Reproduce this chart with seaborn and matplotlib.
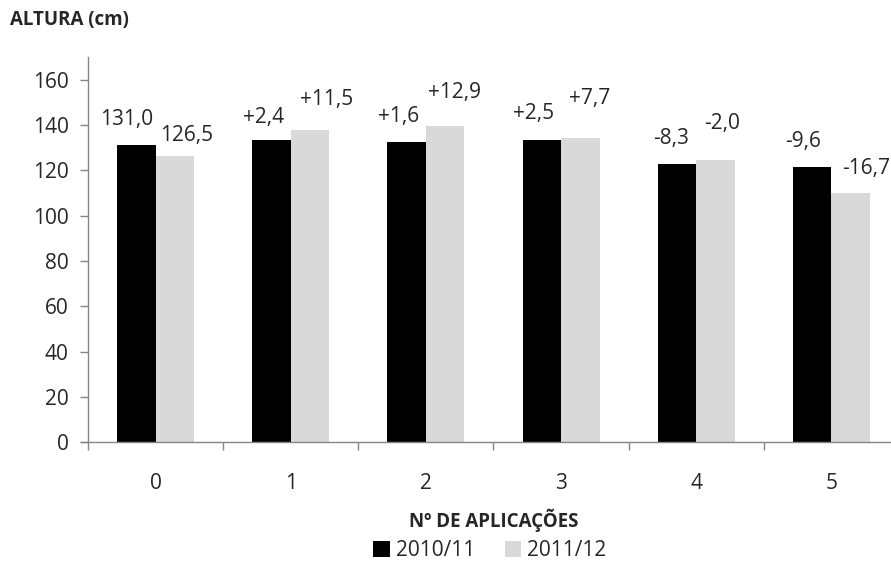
import matplotlib
matplotlib.use("Agg")
import matplotlib.pyplot as plt
import seaborn as sns
import pandas as pd
from matplotlib.patches import Patch

# ---- data ----
categories = ["0", "1", "2", "3", "4", "5"]
series_names = ["2010/11", "2011/12"]
values_2010 = [131.0, 133.4, 132.6, 133.5, 122.7, 121.4]
values_2011 = [126.5, 138.0, 139.4, 134.2, 124.5, 109.8]
labels_2010 = ["131,0", "+2,4", "+1,6", "+2,5", "-8,3", "-9,6"]
labels_2011 = ["126,5", "+11,5", "+12,9", "+7,7", "-2,0", "-16,7"]
y_ticks = [0, 20, 40, 60, 80, 100, 120, 140, 160]

# label offsets (pixels): (dx from bar centre, gap above bar top)
offs_2010 = [(-10, 15), (-8, 12), (-8, 15), (-8, 16), (-6, 15), (-9, 15)]
offs_2011 = [(12, 10), (17, 20), (9, 23), (9, 29), (7, 26), (15, 14)]

df = pd.DataFrame({
    "aplic": categories * 2,
    "serie": [series_names[0]] * 6 + [series_names[1]] * 6,
    "altura": values_2010 + values_2011,
})

sns.set_theme(style="white")
plt.rcParams["font.family"] = ["Open Sans", "DejaVu Sans"]

FS = 15
fig = plt.figure(figsize=(8.91, 5.68), dpi=100)
ax = fig.add_axes([88 / 891, 125.7 / 568, 811 / 891, 385.3 / 568])

colors = {"2010/11": "#000000", "2011/12": "#d9d9d9"}
sns.barplot(data=df, x="aplic", y="altura", hue="serie", order=categories,
            hue_order=series_names, palette=colors, width=0.57,
            linewidth=0, saturation=1, ax=ax, legend=False)

ax.set_xlim(-0.5, 5.5)
ax.set_ylim(0, 170)
ax.set_yticks(y_ticks)
ax.set_yticklabels([str(v) for v in y_ticks])

for s in ["top", "right"]:
    ax.spines[s].set_visible(False)
for s in ["left", "bottom"]:
    ax.spines[s].set_color("#868686")
    ax.spines[s].set_linewidth(1.0)

ax.tick_params(axis="y", which="major", direction="out", length=6, width=1,
               color="#868686", labelsize=FS, labelcolor="#262626", pad=8, left=True)
ax.set_xticks(range(len(categories)))
ax.set_xticklabels(categories)
ax.tick_params(axis="x", which="major", length=0, labelsize=FS,
               labelcolor="#262626", pad=22)
ax.set_xticks([i - 0.5 for i in range(len(categories) + 1)], minor=True)
ax.tick_params(axis="x", which="minor", direction="out", length=6, width=1,
               color="#868686", bottom=True)
ax.spines["bottom"].set_bounds(-0.55, 5.5)

ax.set_xlabel("Nº DE APLICAÇÕES", fontsize=13.5, fontweight="bold",
              color="#262626", labelpad=11)
ax.set_ylabel("")

# data labels
for cont, labs, offs in zip(ax.containers, [labels_2010, labels_2011], [offs_2010, offs_2011]):
    for bar, lab, (dx, dy) in zip(cont.patches, labs, offs):
        xc = bar.get_x() + bar.get_width() / 2
        ax.annotate(lab, (xc, bar.get_height()), xytext=(dx, dy),
                    textcoords="offset pixels", ha="center", va="bottom",
                    fontsize=FS, color="#262626", annotation_clip=False)

fig.text(10 / 891, 1 - 20 / 568, "ALTURA (cm)", fontsize=13.5, fontweight="bold",
         color="#262626", ha="left", va="center")

handles = [Patch(facecolor=colors[n], edgecolor="none", label=n) for n in series_names]
fig.legend(handles=handles, loc="center", bbox_to_anchor=(490 / 891, 1 - 551 / 568),
           ncol=2, frameon=False, fontsize=FS, handlelength=0.8, handleheight=0.8,
           handletextpad=0.3, columnspacing=1.4, labelcolor="#262626")

fig.savefig("out.png", dpi=100)
